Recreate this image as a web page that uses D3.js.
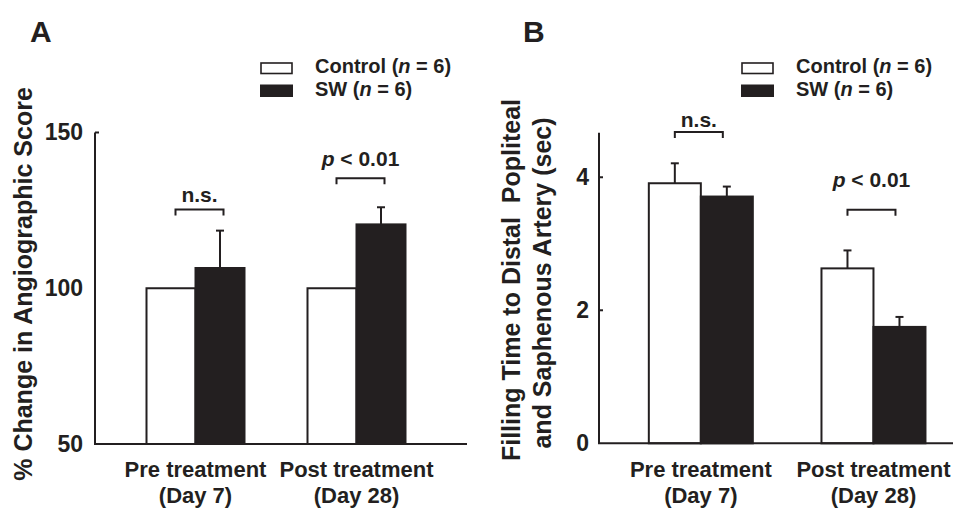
<!DOCTYPE html>
<html><head><meta charset="utf-8">
<script src="https://cdn.jsdelivr.net/npm/d3@7"></script>
<style>
body{margin:0;background:#fff}
svg{display:block}
text{font-family:"Liberation Sans",Arial,Helvetica,sans-serif;font-weight:bold;fill:#231f20}
</style>
</head><body><svg id="c" width="954" height="509"></svg>
<script>
// ---- data ----
const categories = ["Pre treatment", "Post treatment"];
const categoryDays = ["(Day 7)", "(Day 28)"];
const seriesNames = ["Control", "SW"];
const seriesN = [6, 6];

const scoreControl = [100, 100];
const scoreSW = [106.5, 120.5];
const scoreControlErr = [0, 0];
const scoreSWErr = [12, 5.5];
const scoreTicks = [50, 100, 150];
const scoreSig = ["n.s.", "p < 0.01"];
const scoreBracketLevel = [125.3, 135.3];
const scoreSigLabelLevel = [127.6, 139.4];

const timeControl = [3.91, 2.63];
const timeSW = [3.71, 1.75];
const timeControlErr = [0.30, 0.27];
const timeSWErr = [0.15, 0.15];
const timeTicks = [0, 2, 4];
const timeSig = ["n.s.", "p < 0.01"];
const timeBracketLevel = [4.68, 3.51];
const timeSigLabelLevel = [4.75, 3.85];

// ---- drawing ----
const INK = "#231f20";
const svg = d3.select("#c");

function sigText(sel, label) {
  if (label.startsWith("p")) {
    sel.append("tspan").style("font-style", "italic").text("p");
    sel.append("tspan").text(label.slice(1));
  } else sel.text(label);
}

function drawPanel(cfg) {
  const g = svg.append("g");
  const y = d3.scaleLinear().domain(cfg.yDomain).range(cfg.yRange);
  const x0 = d3.scaleBand().domain(categories).range(cfg.groupRange);
  const x1 = d3.scaleBand().domain(seriesNames)
    .range([x0.bandwidth() / 2 - cfg.barHalf, x0.bandwidth() / 2 + cfg.barHalf]);

  const rows = [];
  categories.forEach((c, i) => {
    rows.push({cat: c, s: "Control", v: cfg.control[i], e: cfg.controlErr[i]});
    rows.push({cat: c, s: "SW", v: cfg.sw[i], e: cfg.swErr[i]});
  });

  // bars
  g.selectAll("rect.bar").data(rows).join("rect")
    .attr("class", "bar")
    .attr("x", d => x0(d.cat) + x1(d.s))
    .attr("width", x1.bandwidth())
    .attr("y", d => y(d.v))
    .attr("height", d => y(cfg.yDomain[0]) - y(d.v))
    .attr("fill", d => d.s === "SW" ? INK : "#fff")
    .attr("stroke", INK)
    .attr("stroke-width", 2);

  // error bars (upper only)
  const eb = rows.filter(d => d.e > 0);
  const cx = d => x0(d.cat) + x1(d.s) + x1.bandwidth() / 2;
  g.selectAll("line.err").data(eb).join("line")
    .attr("x1", cx).attr("x2", cx)
    .attr("y1", d => y(d.v)).attr("y2", d => y(d.v + d.e))
    .attr("stroke", INK).attr("stroke-width", 2);
  g.selectAll("line.cap").data(eb).join("line")
    .attr("x1", d => cx(d) - 4).attr("x2", d => cx(d) + 4)
    .attr("y1", d => y(d.v + d.e)).attr("y2", d => y(d.v + d.e))
    .attr("stroke", INK).attr("stroke-width", 2);

  // axes
  const yAxis = d3.axisLeft(y).tickValues(cfg.ticks).tickSizeInner(0).tickSizeOuter(0)
    .tickPadding(cfg.tickPad).tickFormat(d3.format("d"));
  const ay = g.append("g").attr("transform", `translate(${cfg.axisX},0)`).call(yAxis);
  ay.select(".domain").attr("d", `M0,${y(cfg.yDomain[0])}V${cfg.yRange[1]}`)
    .attr("stroke", INK).attr("stroke-width", 2);
  ay.selectAll(".tick text").style("font-size", "23px")
    .style("font-family", "'Liberation Sans',Arial,sans-serif").attr("fill", INK);
  g.selectAll("line.tm").data(cfg.tickMarks).join("line")
    .attr("x1", cfg.axisX).attr("x2", cfg.axisX + 4)
    .attr("y1", d => y(d)).attr("y2", d => y(d))
    .attr("stroke", INK).attr("stroke-width", 2);
  g.append("line")
    .attr("x1", cfg.axisX - 1).attr("x2", cfg.axisEnd)
    .attr("y1", y(cfg.yDomain[0])).attr("y2", y(cfg.yDomain[0]))
    .attr("stroke", INK).attr("stroke-width", 2);

  // category labels
  const cl = g.selectAll("text.cat").data(categories).join("text")
    .attr("text-anchor", "middle").style("font-size", "22px")
    .attr("x", d => x0(d) + x0.bandwidth() / 2).attr("y", 477);
  cl.append("tspan").text(d => d);
  cl.append("tspan").attr("x", d => x0(d) + x0.bandwidth() / 2).attr("dy", 26)
    .text((d, i) => categoryDays[i]);

  // significance brackets
  categories.forEach((c, i) => {
    const mx = x0(c) + x0.bandwidth() / 2 + cfg.bracketShift;
    const by = y(cfg.bracket[i]);
    g.append("path")
      .attr("d", `M${mx - 24},${by + 6}V${by}H${mx + 24}V${by + 6}`)
      .attr("fill", "none").attr("stroke", INK).attr("stroke-width", 2);
    g.append("text").attr("text-anchor", "middle").style("font-size", "21px")
      .attr("x", mx).attr("y", y(cfg.sigLevel[i]))
      .call(sigText, cfg.sig[i]);
  });

  // y title
  cfg.title.forEach((t, i) => {
    g.append("text")
      .attr("transform", `translate(${cfg.titleX[i]},${cfg.titleY[i]}) rotate(-90)`)
      .attr("text-anchor", "middle").style("font-size", "25px")
      .style("white-space", "pre").text(t);
  });

  // panel letter
  g.append("text").attr("x", cfg.letterX).attr("y", 42)
    .style("font-size", "30px").text(cfg.letter);

  // legend
  const lg = g.append("g");
  seriesNames.forEach((s, i) => {
    lg.append("rect")
      .attr("x", cfg.legendX + 1).attr("y", 63 + i * 22.5)
      .attr("width", 31).attr("height", 10.5)
      .attr("fill", s === "SW" ? INK : "#fff")
      .attr("stroke", INK).attr("stroke-width", s === "SW" ? 2 : 1.6);
    const t = lg.append("text").attr("x", cfg.legendX + 55).attr("y", 73 + i * 23)
      .style("font-size", "20px");
    t.append("tspan").text(`${s} (`);
    t.append("tspan").style("font-style", "italic").text("n");
    t.append("tspan").text(` = ${seriesN[i]})`);
  });
}

drawPanel({
  letter: "A", letterX: 30,
  axisX: 95, axisEnd: 467,
  yDomain: [50, 150], yRange: [444, 132.5],
  groupRange: [115, 437], barHalf: 49,
  ticks: scoreTicks, tickMarks: [150], tickPad: 12,
  control: scoreControl, sw: scoreSW, controlErr: scoreControlErr, swErr: scoreSWErr,
  bracket: scoreBracketLevel, sigLevel: scoreSigLabelLevel, sig: scoreSig, bracketShift: 4,
  title: ["% Change in Angiographic Score"], titleX: [32], titleY: [284],
  legendX: 260
});

drawPanel({
  letter: "B", letterX: 523,
  axisX: 599, axisEnd: 953,
  yDomain: [0, 4.67], yRange: [443.3, 132.7],
  groupRange: [614.5, 959.8], barHalf: 52,
  ticks: timeTicks, tickMarks: [2, 4], tickPad: 10,
  control: timeControl, sw: timeSW, controlErr: timeControlErr, swErr: timeSWErr,
  bracket: timeBracketLevel, sigLevel: timeSigLabelLevel, sig: timeSig, bracketShift: -2,
  title: ["Filling Time to Distal  Popliteal", "and Saphenous Artery (sec)"],
  titleX: [520, 551], titleY: [280, 283],
  legendX: 741
});
</script>
</body></html>
